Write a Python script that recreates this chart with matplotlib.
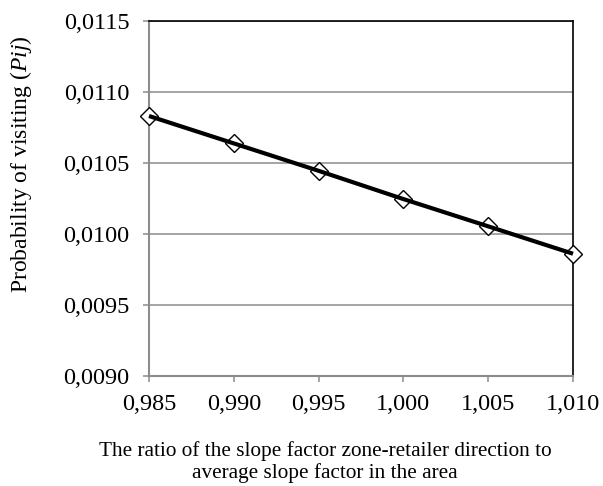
import matplotlib
matplotlib.use("Agg")
import matplotlib.pyplot as plt
from matplotlib.ticker import FixedLocator, FuncFormatter

x_values = [0.985, 0.990, 0.995, 1.000, 1.005, 1.010]
pij_values = [0.010831, 0.010638, 0.010445, 0.010246, 0.010054, 0.009861]
x_ticks = [0.985, 0.990, 0.995, 1.000, 1.005, 1.010]
y_ticks = [0.0090, 0.0095, 0.0100, 0.0105, 0.0110, 0.0115]

plt.rcParams['font.family'] = ['Liberation Serif', 'DejaVu Serif']
plt.rcParams['mathtext.fontset'] = 'custom'
plt.rcParams['mathtext.it'] = 'Liberation Serif:italic'
plt.rcParams['mathtext.rm'] = 'Liberation Serif'

fig = plt.figure(figsize=(6.03, 4.86), dpi=100)
ax = fig.add_axes([149/603, 1-376/486, 424/603, 355/486])

grid_c = '#8c8c8c'
ax.set_xlim(0.985, 1.010)
ax.set_ylim(0.0090, 0.0115)
ax.yaxis.set_major_locator(FixedLocator(y_ticks))
ax.xaxis.set_major_locator(FixedLocator(x_ticks))
ax.yaxis.set_major_formatter(FuncFormatter(lambda v, p: f"{v:.4f}".replace('.', ',')))
ax.xaxis.set_major_formatter(FuncFormatter(lambda v, p: f"{v:.3f}".replace('.', ',')))
ax.grid(axis='y', color=grid_c, linewidth=1.1)
ax.set_axisbelow(True)

for s in ['left', 'bottom']:
    ax.spines[s].set_color(grid_c)
    ax.spines[s].set_linewidth(1.5)
for s in ['top', 'right']:
    ax.spines[s].set_color('black')
    ax.spines[s].set_linewidth(1.2)

ax.tick_params(axis='both', direction='out', length=4, width=1.1, color=grid_c,
               labelsize=17.5)
ax.tick_params(axis='y', pad=10)
ax.tick_params(axis='x', pad=9)

ax.plot(x_values, pij_values, linestyle='none', marker='D', markersize=9,
        markerfacecolor='white', markeredgecolor='black', markeredgewidth=1.0,
        zorder=3, clip_on=False)
ax.plot(x_values, pij_values, color='black', linewidth=3.0, zorder=4,
        solid_capstyle='butt', clip_on=False)

fig.text(21/603, 1-164/486, r'Probability of visiting ($Pij$)', rotation=90,
         ha='center', va='center', fontsize=17)
fig.text(325/603, 1-441/486,
         'The ratio of the slope factor zone-retailer direction to\naverage slope factor in the area',
         ha='center', va='top', fontsize=15.3, linespacing=1.12)

fig.savefig('out.png', dpi=100)
